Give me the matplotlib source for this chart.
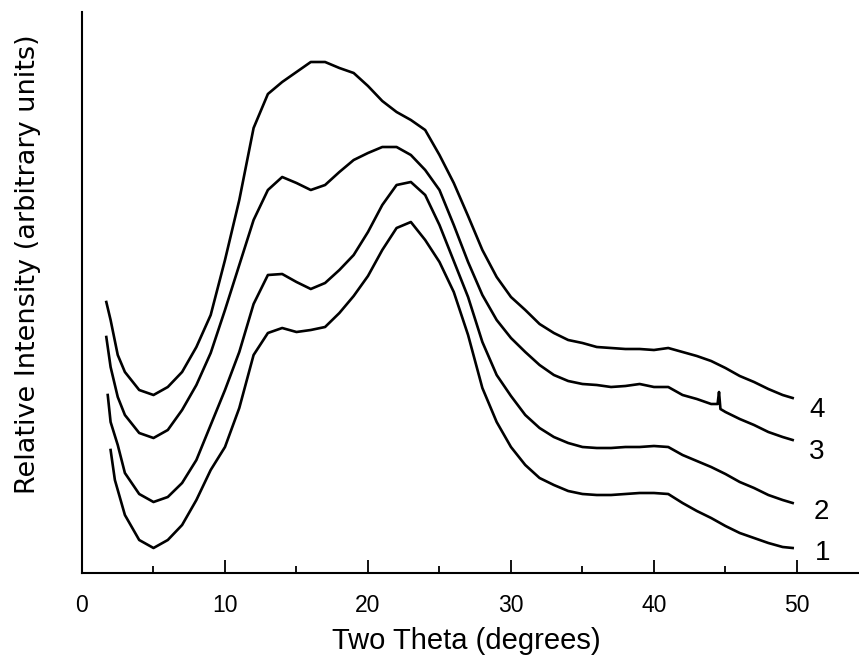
import matplotlib
matplotlib.use("Agg")
import matplotlib.pyplot as plt
from matplotlib.ticker import MultipleLocator

# ---- data (two-theta in degrees, relative intensity in arbitrary units) ----
theta_4 = [1.7, 2, 2.5, 3] + list(range(4, 50)) + [49.7]
int_4 = [271, 253, 218, 201, 183, 178, 186, 201, 226, 258, 313, 373, 445, 479, 491,
         501, 511, 511, 505, 500, 487, 472, 461, 453, 443, 418, 390, 357, 323, 296,
         276, 263, 249, 240, 233, 230, 226, 225, 224, 224, 223, 225, 221, 217, 212,
         205, 197, 191, 184, 178, 175]

theta_3 = [1.7, 2, 2.5, 3] + list(range(4, 45)) + [44.45, 44.55, 44.65] + list(range(45, 50)) + [49.7]
int_3 = [236, 206, 176, 158, 140, 135, 143, 163, 188, 220, 263, 308, 353, 383, 396,
         390, 383, 388, 401, 413, 420, 426, 426, 418, 403, 383, 348, 311, 278, 253,
         235, 221, 208, 198, 192, 189, 188, 186, 187, 189, 186, 186, 178, 174, 169,
         169, 181, 164, 161, 154, 148, 141, 136, 133]

theta_2 = [1.8, 2, 2.5, 3] + list(range(4, 50)) + [49.7]
int_2 = [178, 151, 128, 100, 79, 71, 76, 90, 113, 148, 183, 221, 269, 298, 299,
         291, 284, 290, 303, 318, 341, 368, 388, 391, 378, 348, 312, 276, 231, 198,
         177, 158, 145, 136, 130, 126, 125, 125, 126, 126, 127, 126, 118, 112, 106,
         99, 91, 85, 78, 73, 70]

theta_1 = [2.0, 2.3] + list(range(3, 50)) + [49.7]
int_1 = [123, 93, 58, 33, 25, 33, 48, 73, 103, 126, 165, 218, 240, 245, 241,
         243, 246, 260, 277, 297, 323, 345, 351, 333, 311, 281, 238, 185, 151, 126,
         108, 95, 88, 82, 79, 78, 78, 79, 80, 80, 79, 70, 62, 55, 47, 40, 35, 30,
         26, 25]

series = [(theta_1, int_1, "1"), (theta_2, int_2, "2"),
          (theta_3, int_3, "3"), (theta_4, int_4, "4")]
x_ticks = [0, 10, 20, 30, 40, 50]

font = ["Liberation Sans", "DejaVu Sans"]

fig = plt.figure(figsize=(8.59, 6.62), dpi=100)
ax = fig.add_axes([82 / 859, 89 / 662, 777 / 859, 561 / 662])

for th, inten, lab in series:
    ax.plot(th, inten, color="black", lw=1.9, solid_joinstyle="round")

label_pos = {"4": (51.4, 163), "3": (51.4, 121), "2": (51.7, 61), "1": (51.8, 20)}
for _, _, lab in series:
    px, py = label_pos[lab]
    ax.text(px, py, lab, fontsize=20, family=font, ha="center", va="center")

ax.set_xlim(0, 54.34)
ax.set_ylim(0, 561)
ax.set_xticks(x_ticks)
ax.xaxis.set_minor_locator(MultipleLocator(5))
ax.set_yticks([])
for s in ["top", "right"]:
    ax.spines[s].set_visible(False)
for s in ["left", "bottom"]:
    ax.spines[s].set_linewidth(1.5)
ax.tick_params(axis="x", which="major", direction="in", length=9.5, width=1.3, pad=15,
               labelsize=16.5, labelfontfamily="Liberation Sans")
ax.tick_params(axis="x", which="minor", direction="in", length=5, width=1.3)

ax.set_xlabel("Two Theta (degrees)", fontsize=21, family=font, va="center", ha="center")
ax.xaxis.set_label_coords(0.495, -0.122)
ax.set_ylabel("Relative Intensity (arbitrary units)", fontsize=19.5, family="DejaVu Sans",
              va="center", ha="center")
ax.yaxis.set_label_coords(-0.0695, 0.551)

fig.savefig("out.png", dpi=100)
